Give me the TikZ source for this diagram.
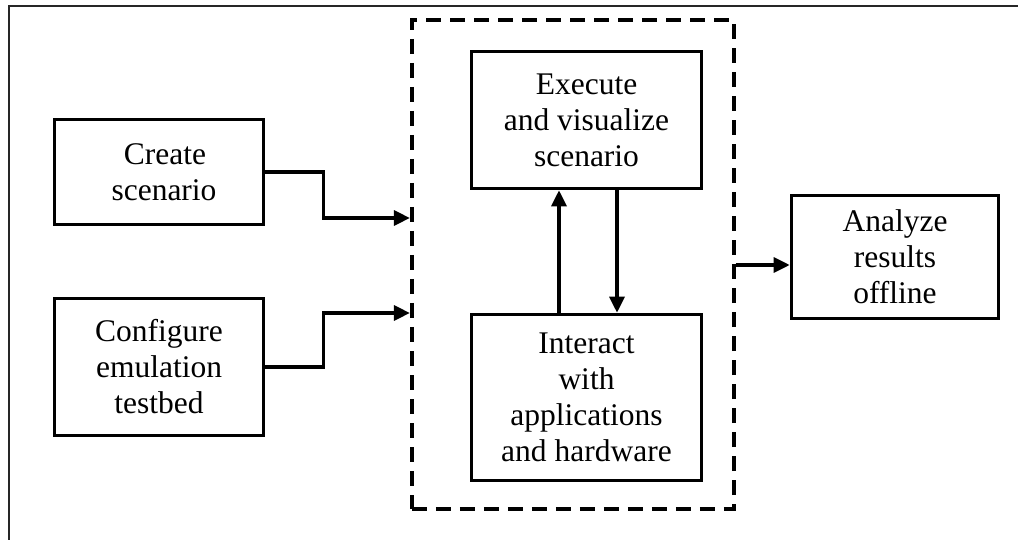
\documentclass[tikz,border=0pt]{standalone}
\usepackage{fontspec}
\setmainfont{Liberation Serif}
\usetikzlibrary{arrows.meta}
\begin{document}
\begin{tikzpicture}[x=1pt,y=-1pt,
  stepbox/.style={draw, line width=3.6pt, inner sep=0pt, align=center,
    font=\fontsize{31.5}{36}\selectfont},
  grpbox/.style={draw, dashed, dash pattern=on 15pt off 9pt, line width=3.8pt, inner sep=0pt,
    minimum width=322pt, minimum height=489pt},
  arr/.style={line width=3.3pt, -{Triangle[length=16pt,width=15pt]}},
  frame/.style={line width=1.8pt, draw=black!85}]
\useasboundingbox (0,0) rectangle (1018,540);
\draw[frame] (9,540) -- (9,6) -- (1018,6);
\node[grpbox] (grp) at (572.8,264.5) {};
\node[stepbox, minimum width=209pt, minimum height=105pt] (create) at (159,172) {\hspace*{12pt}Create\\\hspace*{10pt}scenario};
\node[stepbox, minimum width=209pt, minimum height=137pt] (config) at (159,367) {Configure\\emulation\\testbed};
\node[stepbox, minimum width=230pt, minimum height=137pt] (exec) at (586.5,120) {Execute\\and visualize\\scenario};
\node[stepbox, minimum width=230pt, minimum height=166pt] (inter) at (586.5,397.5) {Interact\\with\\applications\\and hardware};
\node[stepbox, minimum width=207pt, minimum height=123pt] (anal) at (895,257) {Analyze\\results\\offline};
\draw[arr] (create.east) -- ++(58,0) |- (grp.west |- 0,218);
\draw[arr] (config.east) -- ++(58,0) |- (grp.west |- 0,313);
\draw[arr] (inter.north -| 559,0) -- (exec.south -| 559,0);
\draw[arr] (exec.south -| 617,0) -- (inter.north -| 617,0);
\draw[arr] (grp.east |- 0,265) -- (anal.west |- 0,265);
\end{tikzpicture}
\end{document}
